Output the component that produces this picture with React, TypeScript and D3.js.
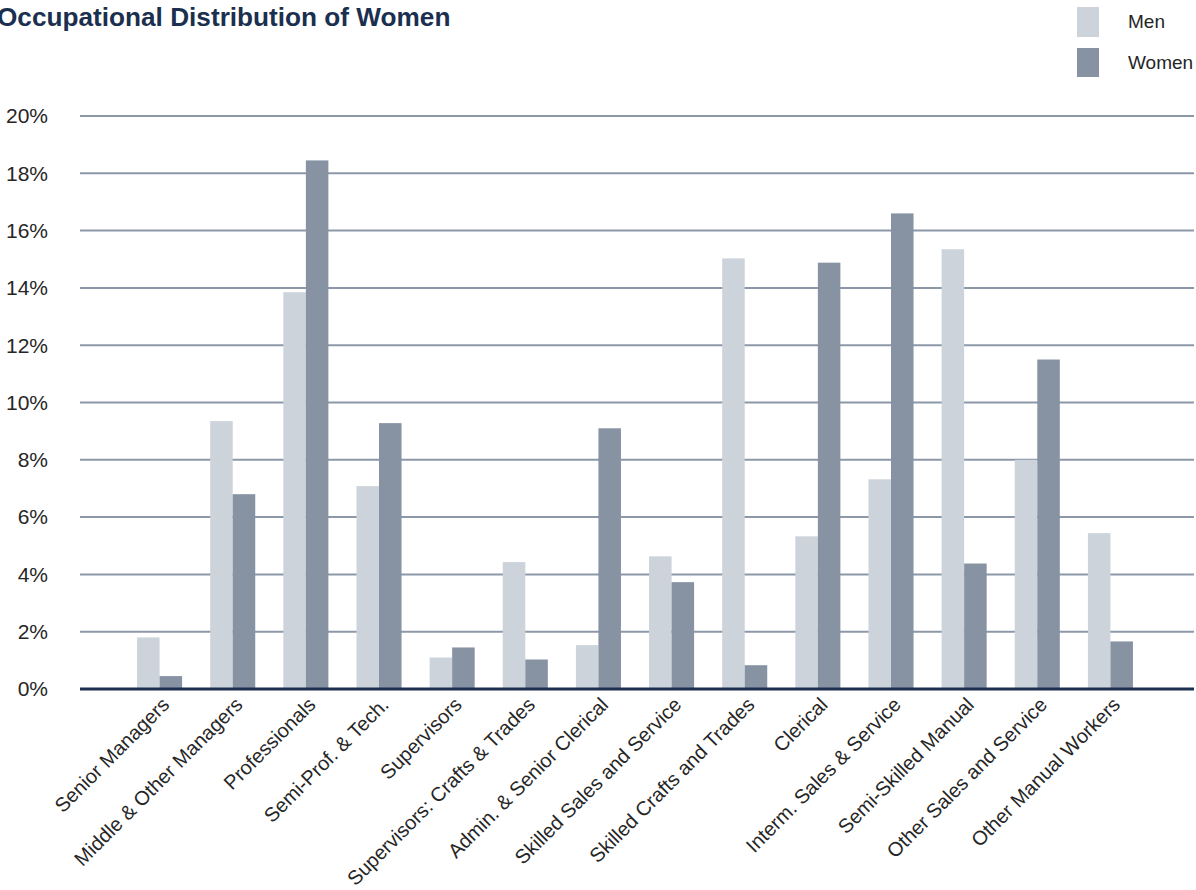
import React from "react";
import * as d3 from "d3";

// Share of each sex employed in each occupational group (%)
const categories = [
  "Senior Managers",
  "Middle & Other Managers",
  "Professionals",
  "Semi-Prof. & Tech.",
  "Supervisors",
  "Supervisors: Crafts & Trades",
  "Admin. & Senior Clerical",
  "Skilled Sales and Service",
  "Skilled Crafts and Trades",
  "Clerical",
  "Interm. Sales & Service",
  "Semi-Skilled Manual",
  "Other Sales and Service",
  "Other Manual Workers",
];
const menValues = [1.8, 9.35, 13.85, 7.08, 1.1, 4.43, 1.53, 4.63, 15.03, 5.33, 7.32, 15.35, 8.0, 5.44];
const womenValues = [0.45, 6.8, 18.45, 9.28, 1.45, 1.03, 9.1, 3.73, 0.83, 14.88, 16.6, 4.38, 11.5, 1.66];
const seriesNames = ["Men", "Women"];
const yTicks = [0, 2, 4, 6, 8, 10, 12, 14, 16, 18, 20];

const W = 1196;
const H = 890;
const plotLeft = 80;
const plotRight = 1194;
const colors: Record<string, string> = { Men: "#cdd3db", Women: "#8793a3" };
const font = "'Liberation Sans', Arial, Helvetica, sans-serif";
const textColor = "#262626";

export default function App() {
  const y = d3.scaleLinear().domain([0, 20]).range([689, 116]);
  const x = d3
    .scaleBand<string>()
    .domain(categories)
    .range([80, 1190])
    .paddingInner(0.384)
    .paddingOuter(0.78);
  const xs = d3.scaleBand<string>().domain(seriesNames).range([0, x.bandwidth()]);

  const rows = categories.map((c, i) => ({ c, Men: menValues[i], Women: womenValues[i] }));

  return (
    <svg
      width={W}
      height={H}
      style={{ position: "absolute", left: 0, top: 0, background: "#fff" }}
      fontFamily={font}
    >
      <text x={-3} y={26} fontSize={26.2} fontWeight="bold" fill="#1b2f4f">
        Occupational Distribution of Women
      </text>

      {/* legend */}
      <rect x={1077} y={7} width={22} height={30} fill={colors.Men} />
      <text x={1128} y={28} fontSize={19} fill={textColor}>Men</text>
      <rect x={1077} y={48} width={22} height={29} fill={colors.Women} />
      <text x={1128} y={69} fontSize={19} fill={textColor}>Women</text>

      {/* gridlines and y tick labels */}
      {yTicks.map((t) => (
        <g key={t}>
          {t > 0 && (
            <line x1={plotLeft} x2={plotRight} y1={y(t)} y2={y(t)} stroke="#8c98a8" strokeWidth={2} />
          )}
          <text x={48} y={y(t)} dy="0.35em" textAnchor="end" fontSize={21} fill={textColor}>
            {t}%
          </text>
        </g>
      ))}

      {/* bars */}
      {rows.map((r) => (
        <g key={r.c} transform={`translate(${x(r.c)},0)`}>
          {seriesNames.map((s) => {
            const v = (r as any)[s] as number;
            return (
              <rect
                key={s}
                x={xs(s)}
                y={y(v)}
                width={xs.bandwidth()}
                height={y(0) - y(v)}
                fill={colors[s]}
              />
            );
          })}
        </g>
      ))}

      {/* baseline */}
      <line x1={plotLeft} x2={plotRight} y1={y(0)} y2={y(0)} stroke="#1c2f4f" strokeWidth={3} />

      {/* category labels */}
      {categories.map((c) => {
        const cx = (x(c) as number) + x.bandwidth() / 2 + 11;
        const cy = 706;
        return (
          <text
            key={c}
            transform={`translate(${cx},${cy}) rotate(-45)`}
            textAnchor="end"
            fontSize={20}
            fill={textColor}
          >
            {c}
          </text>
        );
      })}
    </svg>
  );
}
